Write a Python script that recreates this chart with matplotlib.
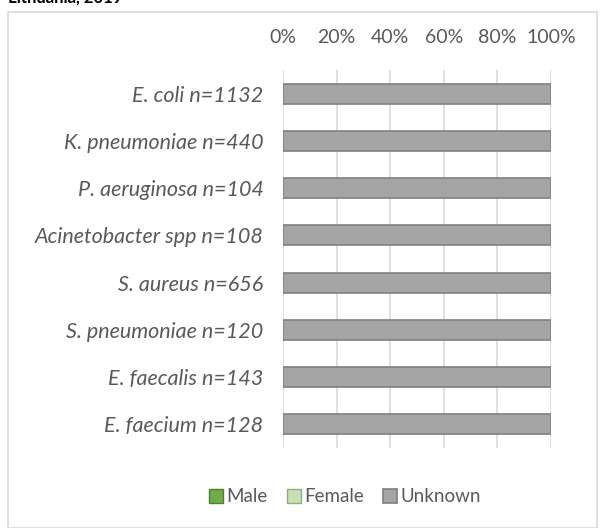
import numpy as np
import matplotlib.pyplot as plt
from matplotlib.patches import Rectangle

pathogens = ['E. coli n=1132', 'K. pneumoniae n=440', 'P. aeruginosa n=104',
             'Acinetobacter spp n=108', 'S. aureus n=656', 'S. pneumoniae n=120',
             'E. faecalis n=143', 'E. faecium n=128']
male = [0, 0, 0, 0, 0, 0, 0, 0]
female = [0, 0, 0, 0, 0, 0, 0, 0]
unknown = [100, 100, 100, 100, 100, 100, 100, 100]

plt.rcParams['font.family'] = ['Lato', 'DejaVu Sans']
txt = '#595959'

W, H = 600, 528
fig = plt.figure(figsize=(W / 100, H / 100), dpi=100)
ax = fig.add_axes([283 / W, 1 - 448 / H, (551 - 283) / W, (448 - 70) / H])

# outer chart frame
fig.patches.append(Rectangle((8 / W, 0.5 / H), 589 / W, (H - 12.5) / H,
                             transform=fig.transFigure, fill=False,
                             edgecolor='#D9D9D9', linewidth=1.2))
fig.text(8 / W, 1 - 6 / H, 'Lithuania, 2019', fontsize=12, fontweight='bold',
         color='#000000', ha='left', va='bottom')

ind = np.arange(len(pathogens))
m = np.array(male)
f = np.array(female)
u = np.array(unknown)
h = 0.42
ax.barh(ind, m, height=h, color='#70AD47', edgecolor='#507E32', label='Male')
ax.barh(ind, f, left=m, height=h, color='#C5E0B4', edgecolor='#8FAF7A', label='Female')
ax.barh(ind, u, left=m + f, height=h, color='#A5A5A5', edgecolor='#7F7F7F',
        linewidth=1.2, label='Unknown')

ax.set_xlim(0, 100)
ax.set_ylim(len(pathogens) - 0.5, -0.5)
ax.set_xticks(np.arange(0, 101, 20))
ax.set_xticklabels([f'{v}%' for v in range(0, 101, 20)])
ax.xaxis.tick_top()
ax.tick_params(axis='x', length=0, pad=17, labelsize=14, colors=txt)
ax.set_yticks(ind)
ax.set_yticklabels(pathogens, fontsize=15.5, style='italic', color=txt)
ax.tick_params(axis='y', length=0, pad=14)
ax.grid(axis='x', color='#D9D9D9', linewidth=1.2)
ax.set_axisbelow(True)
for s in ax.spines.values():
    s.set_visible(False)

fig.legend(loc='center', bbox_to_anchor=(345 / W, 1 - 497 / H), ncol=3,
           frameon=False, fontsize=13.5, labelcolor=txt, handlelength=0.75,
           handleheight=0.75, handletextpad=0.2, columnspacing=1.0)

fig.savefig('out.png', dpi=100)
